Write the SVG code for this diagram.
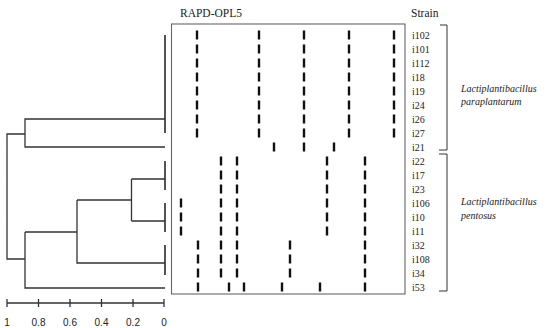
<svg xmlns="http://www.w3.org/2000/svg" width="550" height="328" viewBox="0 0 550 328">
<style>
.t{font-family:"Liberation Serif","DejaVu Serif",serif;fill:#222}
.lab{font-size:10px}
.sp{font-size:10px;font-style:italic}
.hd{font-size:11.5px}
.ax{font-family:"Liberation Sans","Open Sans",sans-serif;font-size:10px;fill:#222}
.band{stroke:#111;stroke-width:2.4;fill:none}
.tree{stroke:#333;stroke-width:1.3;fill:none}
.leaf{stroke:#555;stroke-width:2;fill:none}
.box{stroke:#666;stroke-width:1.1;fill:#fff}
.br{stroke:#333;stroke-width:1;fill:none}
</style>
<rect width="550" height="328" fill="#fff"/>
<g id="headers">
<text class="t hd" x="180" y="17">RAPD-OPL5</text>
<text class="t hd" x="411" y="17">Strain</text>
</g>
<g id="gel">
<rect class="box" x="171.5" y="24" width="233.5" height="270"/>
<g class="band">
<path d="M197 30.5v9M259 30.5v9M304 30.5v9M349 30.5v9M394 30.5v9"/>
<path d="M197 44.5v9M259 44.5v9M304 44.5v9M349 44.5v9M394 44.5v9"/>
<path d="M197 58.5v9M259 58.5v9M304 58.5v9M349 58.5v9M394 58.5v9"/>
<path d="M197 72.5v9M259 72.5v9M304 72.5v9M349 72.5v9M394 72.5v9"/>
<path d="M197 86.5v9M259 86.5v9M304 86.5v9M349 86.5v9M394 86.5v9"/>
<path d="M197 100.5v9M259 100.5v9M304 100.5v9M349 100.5v9M394 100.5v9"/>
<path d="M197 114.5v9M259 114.5v9M304 114.5v9M349 114.5v9M394 114.5v9"/>
<path d="M197 128.5v9M259 128.5v9M304 128.5v9M349 128.5v9M394 128.5v9"/>
<path d="M274 142.5v9M304 142.5v9M334 142.5v9"/>
<path d="M221 156.5v9M237 156.5v9M327 156.5v9M365 156.5v9"/>
<path d="M221 170.5v9M237 170.5v9M327 170.5v9M365 170.5v9"/>
<path d="M221 184.5v9M237 184.5v9M327 184.5v9M365 184.5v9"/>
<path d="M181 198.5v9M221 198.5v9M237 198.5v9M327 198.5v9M365 198.5v9"/>
<path d="M181 212.5v9M221 212.5v9M237 212.5v9M327 212.5v9M365 212.5v9"/>
<path d="M181 226.5v9M221 226.5v9M237 226.5v9M327 226.5v9M365 226.5v9"/>
<path d="M198 240.5v9M221 240.5v9M237 240.5v9M290 240.5v9M365 240.5v9"/>
<path d="M198 254.5v9M221 254.5v9M237 254.5v9M290 254.5v9M365 254.5v9"/>
<path d="M198 268.5v9M221 268.5v9M237 268.5v9M290 268.5v9M365 268.5v9"/>
<path d="M198 282.5v9M229 282.5v9M244 282.5v9M282 282.5v9M320 282.5v9M365 282.5v9"/>
</g>
</g>
<g id="strains" class="t lab">
<text x="412" y="38.5">i102</text>
<text x="412" y="52.5">i101</text>
<text x="412" y="66.5">i112</text>
<text x="412" y="80.5">i18</text>
<text x="412" y="94.5">i19</text>
<text x="412" y="108.5">i24</text>
<text x="412" y="122.5">i26</text>
<text x="412" y="136.5">i27</text>
<text x="412" y="150.5">i21</text>
<text x="412" y="164.5">i22</text>
<text x="412" y="178.5">i17</text>
<text x="412" y="192.5">i23</text>
<text x="412" y="206.5">i106</text>
<text x="412" y="220.5">i10</text>
<text x="412" y="234.5">i11</text>
<text x="412" y="248.5">i32</text>
<text x="412" y="262.5">i108</text>
<text x="412" y="276.5">i34</text>
<text x="412" y="290.5">i53</text>
</g>
<g id="species-paraplantarum">
<path class="br" d="M440 25H447V150H439"/>
<text class="t sp" x="461" y="92">Lactiplantibacillus</text>
<text class="t sp" x="461" y="105">paraplantarum</text>
</g>
<g id="species-pentosus">
<path class="br" d="M439 154H447V291H439"/>
<text class="t sp" x="461" y="205">Lactiplantibacillus</text>
<text class="t sp" x="461" y="219">pentosus</text>
</g>
<g id="connectors">
<path class="leaf" d="M165 35V133M165 161V190M165 203V232M165 245V275"/>
<path class="tree" d="M165 119H25V147H165M25 134H7V259H25M25 232V288H165M25 232H77M77 200V263H165M77 200H131.5M131.5 179V221M131.5 179H165M131.5 221H165"/>
</g>
<g id="axis">
<path class="tree" d="M7 303H164M7 299V307M38.5 299V307M70 299V307M101.5 299V307M133 299V307M164 299V307"/>
<text class="ax" x="7" y="326" text-anchor="middle">1</text>
<text class="ax" x="38.5" y="326" text-anchor="middle">0.8</text>
<text class="ax" x="70" y="326" text-anchor="middle">0.6</text>
<text class="ax" x="101.5" y="326" text-anchor="middle">0.4</text>
<text class="ax" x="133" y="326" text-anchor="middle">0.2</text>
<text class="ax" x="164" y="326" text-anchor="middle">0</text>
</g>
</svg>
